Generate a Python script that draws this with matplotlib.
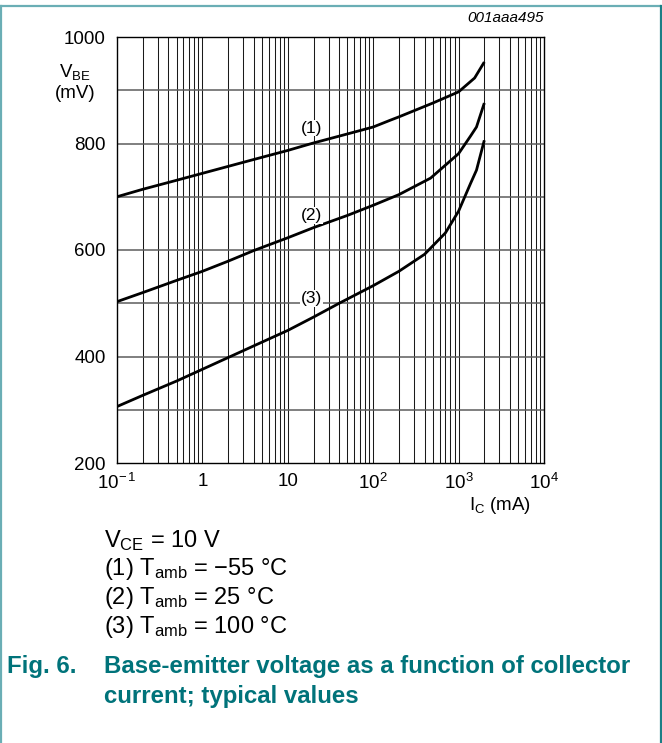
import matplotlib
matplotlib.use("Agg")
import matplotlib.pyplot as plt
from matplotlib.lines import Line2D
from matplotlib.ticker import FixedLocator, FixedFormatter, NullLocator

plt.rcParams['font.family'] = ['Liberation Sans', 'DejaVu Sans']
plt.rcParams['mathtext.fontset'] = 'custom'
plt.rcParams['mathtext.rm'] = 'Liberation Sans'
plt.rcParams['mathtext.it'] = 'Liberation Sans:italic'
plt.rcParams['mathtext.bf'] = 'Liberation Sans:bold'

# collector current (mA) and V_BE (mV)
ic_1 = [0.1, 0.2, 0.5, 1, 2, 4, 10, 20, 50, 100, 160, 200, 500, 1000, 1540, 2000]
vbe_1 = [700, 714, 731, 744, 757, 770, 787, 801, 818, 831, 844, 850, 876, 897, 923, 953]

ic_2 = [0.1, 0.2, 0.5, 1, 2, 4, 10, 20, 50, 100, 200, 470, 1000, 1380, 1620, 2000]
vbe_2 = [503, 520, 543, 560, 579, 599, 623, 642, 665, 684, 704, 735, 781, 814, 831, 876]

ic_3 = [0.1, 0.2, 0.5, 1, 2, 4, 10, 20, 40, 100, 200, 400, 700, 1000, 1380, 1620, 2000]
vbe_3 = [306, 327, 354, 376, 398, 420, 449, 474, 500, 533, 560, 592, 632, 673, 725, 750, 806]

curve_labels = ['(1)', '(2)', '(3)']
label_pos = [(19, 829), (19, 665), (19, 509)]

xticks = [0.1, 1, 10, 100, 1000, 10000]
xticklabels = [r'$\mathregular{10^{-\,1}}$', '1', '10', r'$\mathregular{10^{2}}$',
               r'$\mathregular{10^{3}}$', r'$\mathregular{10^{4}}$']
yticks = [200, 400, 600, 800, 1000]

notes = [r'$\mathregular{V_{CE}}$ = 10 V',
         r'(1) $\mathregular{T_{amb}}$ = −55 °C',
         r'(2) $\mathregular{T_{amb}}$ = 25 °C',
         r'(3) $\mathregular{T_{amb}}$ = 100 °C']

W, H = 662, 743
teal = '#00737a'

fig = plt.figure(figsize=(W / 100, H / 100), dpi=100)
ax = fig.add_axes([117 / W, 1 - 463 / H, (544 - 117) / W, (463 - 37) / H])

ax.set_xscale('log')
ax.set_xlim(0.1, 10000)
ax.set_ylim(200, 1000)

# grid: every 1..9 per decade, every 100 mV
minor_x = [m * 10 ** e for e in range(-1, 4) for m in range(2, 10)]
for x in minor_x + xticks[1:-1]:
    ax.axvline(x, color='#1a1a1a', lw=0.75, zorder=1)
for y in range(300, 1000, 100):
    ax.axhline(y, color='#5c5c5c', lw=1.1, zorder=1)

for ic, vbe in [(ic_1, vbe_1), (ic_2, vbe_2), (ic_3, vbe_3)]:
    ax.plot(ic, vbe, color='black', lw=2.0, zorder=3, solid_capstyle='butt')

for lab, (x, y) in zip(curve_labels, label_pos):
    ax.text(x, y, lab, fontsize=12.5, ha='center', va='center', zorder=4,
            bbox=dict(facecolor='white', edgecolor='none', pad=0.5))

ax.xaxis.set_major_locator(FixedLocator(xticks))
ax.xaxis.set_major_formatter(FixedFormatter(xticklabels))
ax.xaxis.set_minor_locator(NullLocator())
ax.set_yticks(yticks)
ax.tick_params(axis='both', length=0, labelsize=13.5)
ax.tick_params(axis='x', pad=7)
ax.tick_params(axis='y', pad=8)
for s in ax.spines.values():
    s.set_linewidth(1.0)

def px(x, y):
    return x / W, 1 - y / H

fig.text(*px(75, 72), r'$\mathregular{V_{BE}}$', fontsize=13.5, ha='center', va='center')
fig.text(*px(75, 93), '(mV)', fontsize=13.5, ha='center', va='center')
fig.text(*px(531, 506), r'$\mathregular{I_C}$ (mA)', fontsize=13.5, ha='right', va='center')
fig.text(*px(544, 18), '001aaa495', fontsize=11, style='italic', ha='right', va='center')

for i, t in enumerate(notes):
    fig.text(*px(104, 541 + i * 28.5), t, fontsize=17, ha='left', va='center')

fig.text(*px(7, 667), 'Fig. 6.', fontsize=17.3, weight='bold', color=teal, ha='left', va='center')
fig.text(*px(104, 667), 'Base-emitter voltage as a function of collector',
         fontsize=17.3, weight='bold', color=teal, ha='left', va='center')
fig.text(*px(104, 696), 'current; typical values',
         fontsize=17.3, weight='bold', color=teal, ha='left', va='center')

# frame around the figure
fig.add_artist(Line2D([0.5 / W, 660 / W], [1 - 5.5 / H, 1 - 5.5 / H], color='#6aaeb5', lw=1.6))
fig.add_artist(Line2D([1 / W, 1 / W], [0, 1 - 5.5 / H], color='#6aaeb5', lw=1.6))
fig.add_artist(Line2D([660.5 / W, 660.5 / W], [0, 1 - 5.5 / H], color='#1b7f86', lw=1.6))

fig.savefig('out.png', dpi=100)
